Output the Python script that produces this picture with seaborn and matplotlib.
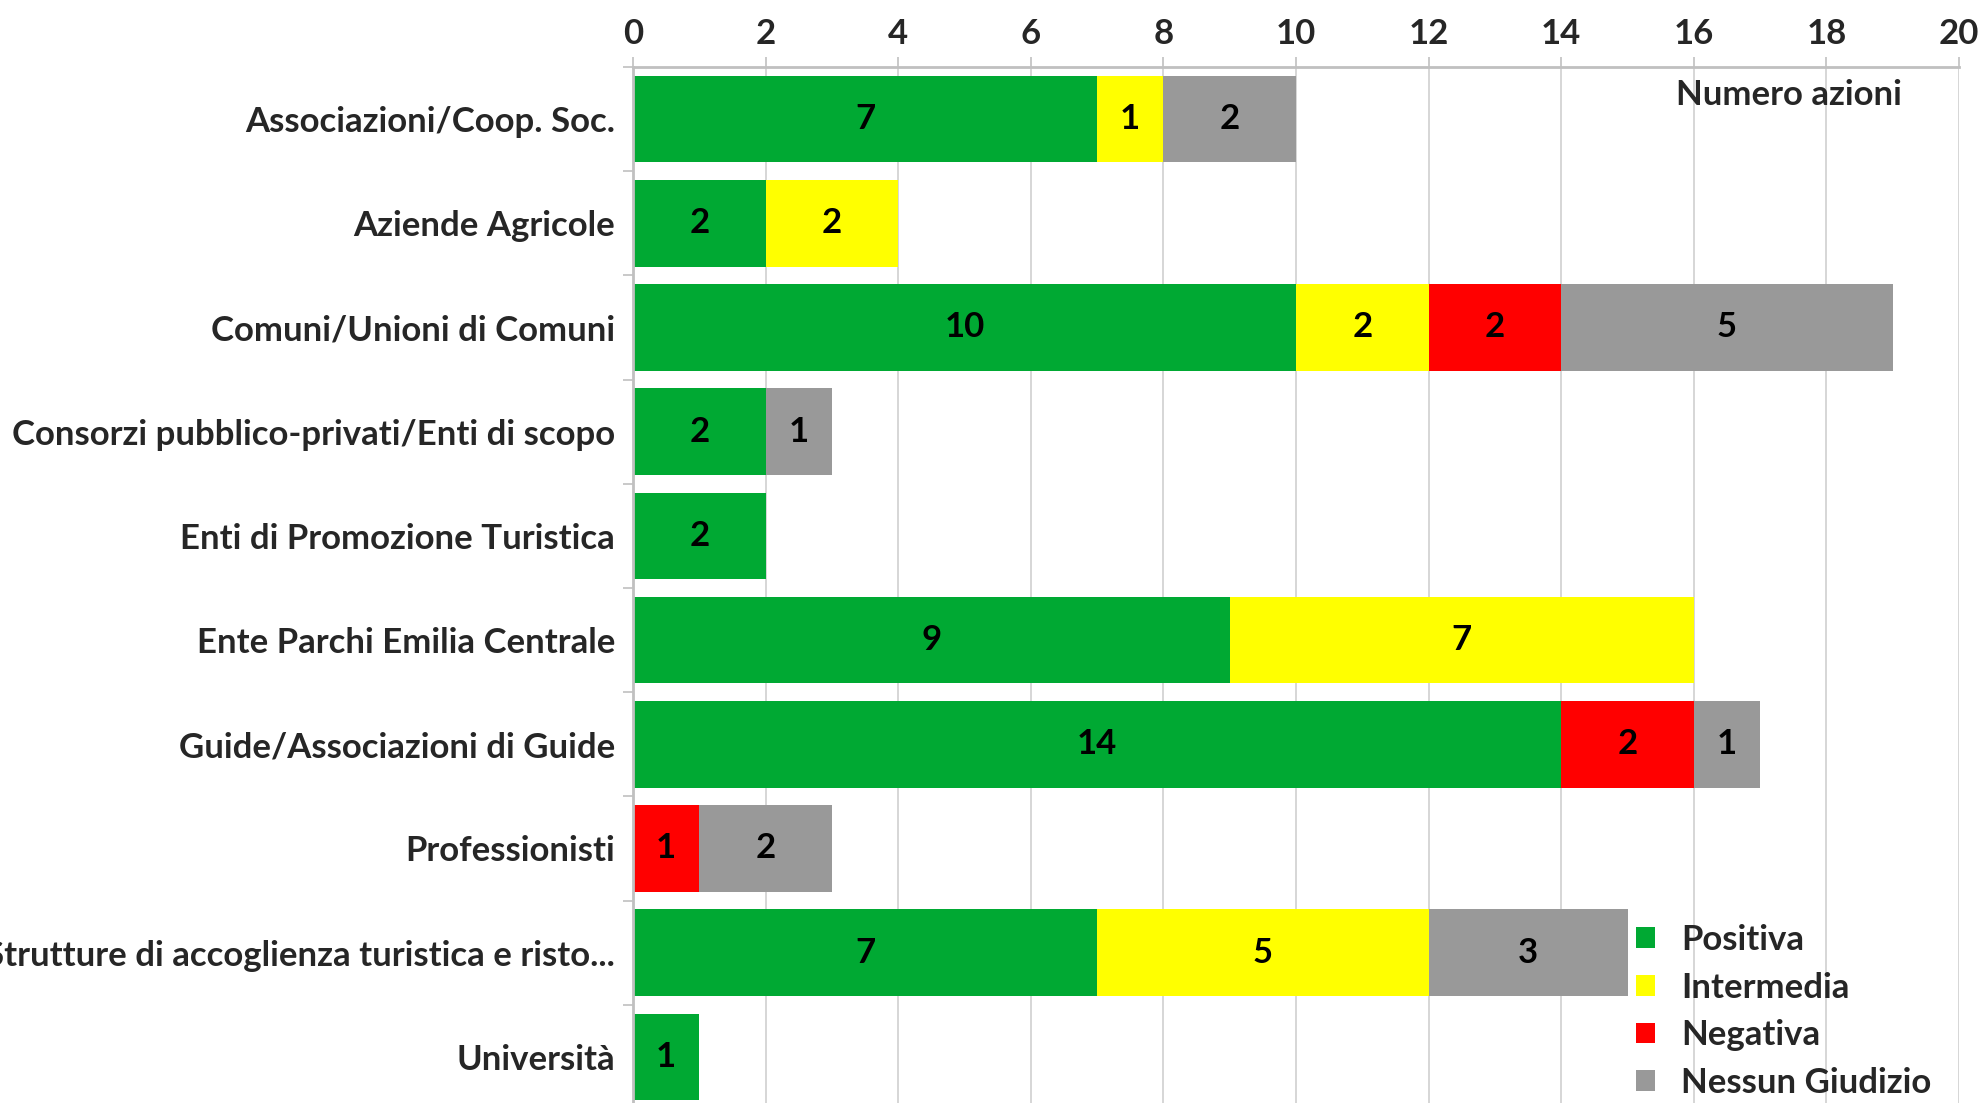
"""Stacked horizontal bars: giudizio per tipo di soggetto."""

import matplotlib
matplotlib.use("Agg")
import matplotlib.pyplot as plt
import numpy as np
import pandas as pd
import seaborn as sns

categories = [
    "Associazioni/Coop. Soc.",
    "Aziende Agricole",
    "Comuni/Unioni di Comuni",
    "Consorzi pubblico-privati/Enti di scopo",
    "Enti di Promozione Turistica",
    "Ente Parchi Emilia Centrale",
    "Guide/Associazioni di Guide",
    "Professionisti",
    "Strutture di accoglienza turistica e risto...",
    "Università",
]
positiva = [7, 2, 10, 2, 2, 9, 14, 0, 7, 1]
intermedia = [1, 2, 2, 0, 0, 7, 0, 0, 5, 0]
negativa = [0, 0, 2, 0, 0, 0, 2, 1, 0, 0]
nessun_giudizio = [2, 0, 5, 1, 0, 0, 1, 2, 3, 0]

series_names = ["Positiva", "Intermedia", "Negativa", "Nessun Giudizio"]
series_colors = ["#00a933", "#ffff00", "#ff0000", "#999999"]

sns.set_theme(style="white")
plt.rcParams["font.family"] = ["Lato", "DejaVu Sans"]
plt.rcParams["font.weight"] = "bold"
FS = 25

values = np.array([positiva, intermedia, negativa, nessun_giudizio])
cumulative = values.cumsum(axis=0)
df = pd.DataFrame({"categoria": categories})
for name, cum in zip(series_names, cumulative):
    df[name] = cum

fig = plt.figure(figsize=(19.81, 11.03), dpi=100)
ax = fig.add_axes([633 / 1981, -6 / 1103, 1326 / 1981, 1042 / 1103])

# draw cumulative totals from the largest down so they overlap as a stack
handles = {}
for name, color in reversed(list(zip(series_names, series_colors))):
    sns.barplot(data=df, x=name, y="categoria", order=categories, color=color,
                width=0.83, saturation=1, linewidth=0, ax=ax, label=name)
    handles[name] = ax.patches[-1]

# segment labels
for i, cat in enumerate(categories):
    start = 0
    for k in range(len(series_names)):
        v = values[k, i]
        if v > 0:
            ax.text(start + v / 2, i, str(v), ha="center", va="center",
                    fontsize=FS, fontweight="bold", color="black")
        start += v

ax.set_xlim(0, 20)
ax.set_xticks(range(0, 21, 2))
ax.xaxis.tick_top()
ax.set_xlabel("")
ax.set_ylabel("")
ax.grid(axis="x", color="#d0d0d0", linewidth=1.2)
ax.set_axisbelow(True)
ax.tick_params(axis="x", which="major", length=7, width=1.2, color="#c0c0c0",
               labelsize=FS, pad=5, top=True, bottom=False)
ax.tick_params(axis="y", which="major", length=0, labelsize=FS, pad=13)
ax.set_yticks(np.arange(-0.5, len(categories), 1), minor=True)
ax.tick_params(axis="y", which="minor", length=7, width=1.2, color="#c0c0c0", left=True)
for lbl in ax.get_xticklabels() + ax.get_yticklabels():
    lbl.set_fontweight("bold")
for side in ["right", "bottom"]:
    ax.spines[side].set_visible(False)
for side in ["top", "left"]:
    ax.spines[side].set_color("#c0c0c0")
    ax.spines[side].set_linewidth(2)

ax.text(1789 / 1981, 1 - 95 / 1103, "Numero azioni", transform=fig.transFigure,
        ha="center", va="center", fontsize=FS, fontweight="bold")

leg = ax.legend([handles[n] for n in series_names], series_names,
                loc="upper left", bbox_to_anchor=(1636 / 1981, 1 - 924 / 1103),
                bbox_transform=fig.transFigure, frameon=False,
                prop={"size": FS, "weight": "bold"},
                handlelength=0.55, handleheight=0.55, handletextpad=0.75,
                labelspacing=0.45, borderaxespad=0, borderpad=0)

fig.savefig("out.png", dpi=100)
